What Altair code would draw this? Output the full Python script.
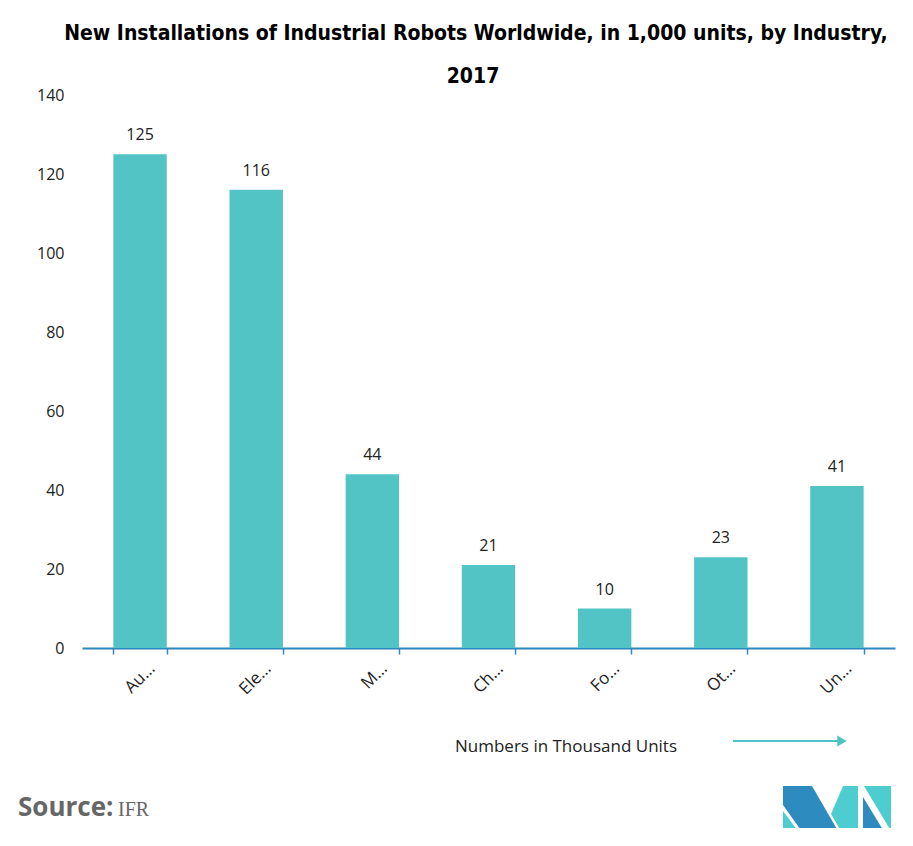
import altair as alt
import pandas as pd
import base64

categories = ["Automotive", "Electrical/Electronics", "Metal", "Chemical", "Food", "Others", "Unspecified"]
short_labels = ["Au…", "Ele…", "M…", "Ch…", "Fo…", "Ot…", "Un…"]
values = [125, 116, 44, 21, 10, 23, 41]
title_lines = ["New Installations of Industrial Robots Worldwide, in 1,000 units, by Industry,", "2017"]
y_ticks = [0, 20, 40, 60, 80, 100, 120, 140]

df = pd.DataFrame({"Industry": categories, "Units": values})

# label expression from the short label list
expr = "datum.label"
for c, s in reversed(list(zip(categories, short_labels))):
    expr = f"datum.label === '{c}' ? '{s}' : ({expr})"

TEAL = "#53C4C6"
BLUE = "#2E86C1"
W, H = 813, 553

base = alt.Chart(df)
bars = base.mark_bar(color=TEAL).encode(
    x=alt.X("Industry:N", sort=categories,
            scale=alt.Scale(paddingInner=0.54, paddingOuter=0.27),
            axis=alt.Axis(title=None, labelAngle=-45, labelExpr=expr,
                          labelFont="Open Sans", labelFontSize=17, labelColor="#222",
                          labelPadding=6, labelOffset=6,
                          domainColor=BLUE, domainWidth=2, tickColor=BLUE,
                          tickSize=6, tickWidth=1.5, tickBand="extent")),
    y=alt.Y("Units:Q", scale=alt.Scale(domain=[0, 140], nice=False),
            axis=alt.Axis(title=None, values=y_ticks, domain=False, ticks=False, grid=False,
                          labelFont="Open Sans", labelFontSize=16, labelColor="#222",
                          labelPadding=18)),
)
labels = base.mark_text(baseline="bottom", dy=-11, font="Open Sans", fontSize=16, color="#222").encode(
    x=alt.X("Industry:N", sort=categories),
    y="Units:Q",
    text="Units:Q",
)

def txt(t, x, y, **kw):
    return alt.Chart(pd.DataFrame({"t": [t]})).mark_text(**kw).encode(
        x=alt.value(x), y=alt.value(y), text="t:N")

TITLE_FONT = "Liberation Sans Narrow, DejaVu Sans Condensed"
title1 = txt(title_lines[0], 394, -61, font=TITLE_FONT, fontSize=21, fontWeight="bold",
             color="#000", align="center", baseline="middle")
title2 = txt(title_lines[1], 391, -18, font=TITLE_FONT, fontSize=21, fontWeight="bold",
             color="#000", align="center", baseline="middle")
note = txt("Numbers in Thousand Units", 484, 652, font="Open Sans", fontSize=17,
           color="#222", align="center", baseline="middle")
arrow_line = alt.Chart(pd.DataFrame({"a": [0]})).mark_rule(color="#4EC3C6", strokeWidth=2).encode(
    x=alt.value(651), x2=alt.value(756), y=alt.value(646))
arrow_head = alt.Chart(pd.DataFrame({"a": [0]})).mark_point(
    shape="triangle-right", filled=True, color="#4EC3C6", opacity=1, size=120).encode(
    x=alt.value(760), y=alt.value(646))
src1 = txt("Source:", -64, 721, font="Open Sans", fontWeight="bold", fontSize=26,
           color="#666", align="left", baseline="alphabetic")
src2 = txt("IFR", 36, 721, font="Liberation Serif", fontSize=20,
           color="#666", align="left", baseline="alphabetic")

svg = """<svg xmlns='http://www.w3.org/2000/svg' width='108' height='57' viewBox='783 786 108 57'>
<polygon fill='#2E8BC0' points='783,786 812,786 845,843 810,843 783,805'/>
<polygon fill='#4ECDD0' points='783,811 807,843 783,843'/>
<polygon fill='#4ECDD0' points='843,786 858,786 858,843 848,843 831,814'/>
<polygon fill='#4ECDD0' points='864,786 891,786 891,831'/>
<polygon fill='#2E8BC0' points='863,797 891,843 863,843'/>
</svg>"""
url = "data:image/svg+xml;base64," + base64.b64encode(svg.encode()).decode()
logo = alt.Chart(pd.DataFrame({"u": [url]})).mark_image(width=108, height=57, align="left", baseline="top").encode(
    x=alt.value(701), y=alt.value(691), url="u:N")

chart = alt.layer(bars, labels, title1, title2, note, arrow_line, arrow_head, src1, src2, logo).properties(
    width=W, height=H,
    autosize=alt.AutoSizeParams(type="none"),
    padding={"left": 74, "top": 87, "right": 10, "bottom": 180},
).configure_view(stroke=None)

chart.save("out.html", embed_options={"renderer": "svg", "actions": False})
